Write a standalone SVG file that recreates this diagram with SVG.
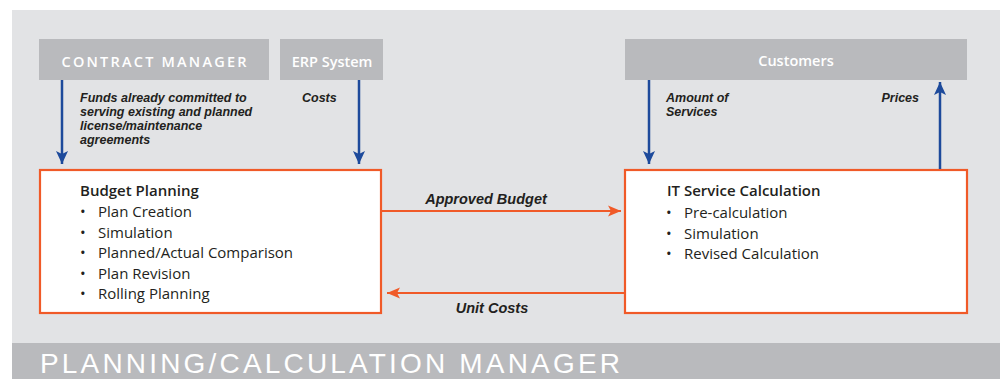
<svg xmlns="http://www.w3.org/2000/svg" width="1000" height="379" viewBox="0 0 1000 379">
<style>
.src{fill:#b9babd}
.srct{fill:#fff;font-family:"Open Sans","Liberation Sans",sans-serif;font-size:14.5px;font-weight:600;text-anchor:middle}
.box{fill:#fff;stroke:#f05a28;stroke-width:2.2}
.title{font-family:"Open Sans","Liberation Sans",sans-serif;font-size:15px;font-weight:600;fill:#231f20}
.item{font-family:"Open Sans","Liberation Sans",sans-serif;font-size:15px;fill:#231f20}
.lbl{font-family:"Liberation Sans",Arial,sans-serif;font-size:12.5px;font-style:italic;font-weight:700;fill:#231f20}
.lbl2{font-family:"Liberation Sans",Arial,sans-serif;font-size:14.5px;font-style:italic;font-weight:700;fill:#231f20}
.blue{stroke:#1d4a9b;stroke-width:2.5;fill:none}
.orng{stroke:#f05a28;stroke-width:2.2;fill:none}
</style>
<defs>
<marker id="hb" markerUnits="userSpaceOnUse" markerWidth="14" markerHeight="14" viewBox="0 0 14 14" refX="13" refY="7" orient="auto">
<path d="M0,1 L13,7 L0,13 L3,7 Z" fill="#1d4a9b"/>
</marker>
<marker id="ho" markerUnits="userSpaceOnUse" markerWidth="14" markerHeight="14" viewBox="0 0 14 14" refX="13" refY="7" orient="auto">
<path d="M0,1.5 L13,7 L0,12.5 L3,7 Z" fill="#f05a28"/>
</marker>
</defs>
<rect x="12" y="10" width="988" height="334" fill="#e2e3e5"/>
<g id="planning-calculation-manager">
<rect x="12" y="343" width="988" height="36" fill="#b9babd"/>
<text x="40" y="373" font-family="'Liberation Sans',Arial,sans-serif" font-size="28" fill="#fff" textLength="580" lengthAdjust="spacing">PLANNING/CALCULATION MANAGER</text>
</g>
<g id="contract-manager">
<rect class="src" x="39" y="39" width="230" height="41"/>
<text class="srct" x="154" y="67" textLength="185" lengthAdjust="spacing">CONTRACT MANAGER</text>
</g>
<g id="erp-system">
<rect class="src" x="280" y="39" width="103" height="41"/>
<text class="srct" x="332" y="67">ERP System</text>
</g>
<g id="customers">
<rect class="src" x="625" y="39" width="342" height="41"/>
<text class="srct" x="796" y="66">Customers</text>
</g>
<g id="budget-planning">
<rect class="box" x="40" y="170" width="341" height="143"/>
<text class="title" x="80" y="196">Budget Planning</text>
<g class="item">
<text x="80" y="217">•</text><text x="98" y="217">Plan Creation</text>
<text x="80" y="238">•</text><text x="98" y="238">Simulation</text>
<text x="80" y="258">•</text><text x="98" y="258">Planned/Actual Comparison</text>
<text x="80" y="279">•</text><text x="98" y="279">Plan Revision</text>
<text x="80" y="299">•</text><text x="98" y="299">Rolling Planning</text>
</g>
</g>
<g id="it-service-calculation">
<rect class="box" x="625" y="170" width="342" height="143"/>
<text class="title" x="667" y="196">IT Service Calculation</text>
<g class="item">
<text x="666" y="218">•</text><text x="684" y="218">Pre-calculation</text>
<text x="666" y="239">•</text><text x="684" y="239">Simulation</text>
<text x="666" y="259">•</text><text x="684" y="259">Revised Calculation</text>
</g>
</g>
<g id="connectors">
<line class="blue" x1="62" y1="80" x2="62" y2="164" marker-end="url(#hb)"/>
<line class="blue" x1="359" y1="80" x2="359" y2="164" marker-end="url(#hb)"/>
<line class="blue" x1="649" y1="80" x2="649" y2="164" marker-end="url(#hb)"/>
<line class="blue" x1="940" y1="169" x2="940" y2="82" marker-end="url(#hb)"/>
<line class="orng" x1="382" y1="211" x2="621" y2="211" marker-end="url(#ho)"/>
<line class="orng" x1="625" y1="293" x2="387" y2="293" marker-end="url(#ho)"/>
<text class="lbl" x="80" y="102">Funds already committed to</text>
<text class="lbl" x="80" y="116">serving existing and planned</text>
<text class="lbl" x="80" y="130">license/maintenance</text>
<text class="lbl" x="80" y="144">agreements</text>
<text class="lbl" x="302" y="102">Costs</text>
<text class="lbl" x="666" y="102">Amount of</text>
<text class="lbl" x="666" y="116">Services</text>
<text class="lbl" x="919" y="102" text-anchor="end">Prices</text>
<text class="lbl2" x="486" y="204" text-anchor="middle">Approved Budget</text>
<text class="lbl2" x="492" y="313" text-anchor="middle">Unit Costs</text>
</g>
</svg>
